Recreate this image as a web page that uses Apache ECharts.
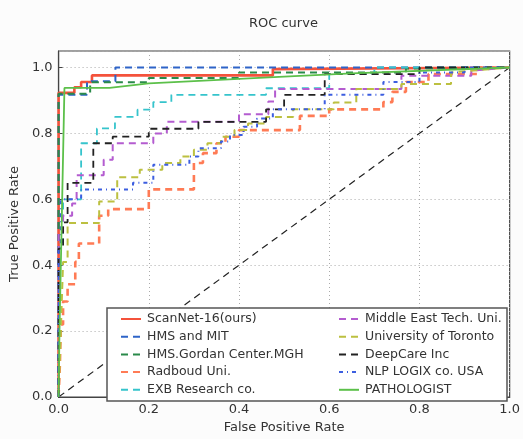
<!DOCTYPE html>
<html>
<head>
<meta charset="utf-8">
<script src="https://cdn.jsdelivr.net/npm/echarts@6/dist/echarts.min.js"></script>
<style>html,body{margin:0;padding:0;background:#fcfcfc;}#c{width:523px;height:439px;}</style>
</head>
<body>
<div id="c"></div>
<script>
// ---- data (FPR, TPR) ----
const xTicks = [0.0, 0.2, 0.4, 0.6, 0.8, 1.0];
const yTicks = [0.0, 0.2, 0.4, 0.6, 0.8, 1.0];

const scanNet = [[0,0],[0,0.923],[0.035,0.923],[0.035,0.94],[0.05,0.94],[0.05,0.956],[0.074,0.956],[0.074,0.976],[0.475,0.976],[0.475,0.995],[1,1]];
const hmsMit = [[0,0],[0,0.917],[0.063,0.917],[0.063,0.958],[0.126,0.958],[0.126,1.0],[1,1]];
const hmsMgh = [[0,0],[0,0.92],[0.07,0.92],[0.07,0.955],[0.2,0.955],[0.2,0.968],[0.4,0.968],[0.4,0.985],[0.77,0.985],[0.77,0.997],[1,1]];
const radboud = [[0,0],[0.003,0.1],[0.005,0.22],[0.01,0.22],[0.01,0.29],[0.02,0.29],[0.02,0.342],[0.037,0.342],[0.037,0.41],[0.045,0.41],[0.045,0.466],[0.09,0.466],[0.09,0.55],[0.11,0.55],[0.11,0.57],[0.2,0.57],[0.2,0.63],[0.3,0.63],[0.3,0.71],[0.32,0.71],[0.32,0.74],[0.35,0.74],[0.35,0.77],[0.37,0.77],[0.37,0.79],[0.4,0.79],[0.4,0.81],[0.535,0.81],[0.535,0.853],[0.6,0.853],[0.6,0.873],[0.72,0.873],[0.72,0.895],[0.74,0.895],[0.74,0.926],[0.77,0.926],[0.77,0.956],[0.82,0.956],[0.82,0.98],[0.93,0.98],[0.93,1],[1,1]];
const exb = [[0,0],[0,0.47],[0.01,0.47],[0.01,0.6],[0.05,0.6],[0.05,0.77],[0.085,0.77],[0.085,0.815],[0.125,0.815],[0.125,0.85],[0.175,0.85],[0.175,0.872],[0.21,0.872],[0.21,0.895],[0.25,0.895],[0.25,0.917],[0.46,0.917],[0.46,0.937],[0.6,0.937],[0.6,0.98],[0.7,0.98],[0.7,1.0],[1,1]];
const metu = [[0,0],[0,0.5],[0.01,0.5],[0.01,0.55],[0.03,0.55],[0.03,0.587],[0.04,0.587],[0.04,0.673],[0.1,0.673],[0.1,0.72],[0.12,0.72],[0.12,0.77],[0.21,0.77],[0.21,0.8],[0.24,0.8],[0.24,0.835],[0.4,0.835],[0.4,0.858],[0.465,0.858],[0.465,0.897],[0.48,0.897],[0.48,0.935],[0.76,0.935],[0.76,0.975],[0.915,0.975],[0.915,0.99],[1,1]];
const toronto = [[0,0],[0.005,0.2],[0.01,0.41],[0.02,0.41],[0.02,0.528],[0.09,0.528],[0.09,0.593],[0.13,0.593],[0.13,0.667],[0.18,0.667],[0.18,0.69],[0.23,0.69],[0.23,0.71],[0.27,0.71],[0.27,0.73],[0.3,0.73],[0.3,0.75],[0.33,0.75],[0.33,0.77],[0.36,0.77],[0.36,0.79],[0.39,0.79],[0.39,0.81],[0.42,0.81],[0.42,0.83],[0.46,0.83],[0.46,0.85],[0.52,0.85],[0.52,0.873],[0.61,0.873],[0.61,0.894],[0.66,0.894],[0.66,0.935],[0.76,0.935],[0.76,0.95],[0.87,0.95],[0.87,0.985],[1,1]];
const deepCare = [[0,0],[0,0.45],[0.01,0.45],[0.01,0.53],[0.02,0.53],[0.02,0.65],[0.077,0.65],[0.077,0.77],[0.12,0.77],[0.12,0.79],[0.2,0.79],[0.2,0.814],[0.31,0.814],[0.31,0.835],[0.46,0.835],[0.46,0.873],[0.5,0.873],[0.5,0.917],[0.59,0.917],[0.59,0.98],[0.8,0.98],[0.8,1.0],[1,1]];
const nlpLogix = [[0,0],[0,0.45],[0.005,0.45],[0.005,0.6],[0.05,0.6],[0.05,0.63],[0.165,0.63],[0.165,0.65],[0.21,0.65],[0.21,0.705],[0.29,0.705],[0.29,0.73],[0.31,0.73],[0.31,0.755],[0.36,0.755],[0.36,0.775],[0.38,0.775],[0.38,0.795],[0.41,0.795],[0.41,0.82],[0.44,0.82],[0.44,0.845],[0.475,0.845],[0.475,0.873],[0.59,0.873],[0.59,0.917],[0.72,0.917],[0.72,0.956],[0.8,0.956],[0.8,0.985],[0.9,0.985],[0.9,1],[1,1]];
const pathologist = [[0,0],[0.002,0.2],[0.008,0.6],[0.013,0.938],[0.113,0.938],[0.2,0.952],[0.5,0.972],[0.65,0.982],[1,1]];
const chance = [[0,0],[1,1]];

const names = ['ScanNet-16(ours)','HMS and MIT','HMS.Gordan Center.MGH','Radboud Uni.','EXB Research co.','Middle East Tech. Uni.','University of Toronto','DeepCare Inc','NLP LOGIX co. USA','PATHOLOGIST'];
const seriesData = [scanNet, hmsMit, hmsMgh, radboud, exb, metu, toronto, deepCare, nlpLogix, pathologist];
const colors = ['#f4523b','#2e64c8','#2a8a4a','#ff7b55','#36c4cc','#b45cd0','#bcc040','#222222','#3c5ee0','#5cc04a'];
const dashes = ['solid',[7,5],[7,5],[7,5],[7,5],[7,5],[7,5],[7,5],[4,4,1,4],'solid'];
const widths = [2.6,2,2,2.6,1.8,2,2,1.8,2,1.8];

const chart = echarts.init(document.getElementById('c'), null, {renderer:'canvas'});
const FONT = 'DejaVu Sans';
const series = names.map((n,i)=>({
  name:n, type:'line', data:seriesData[i], symbol:'none', showSymbol:false,
  lineStyle:{color:colors[i], width:widths[i], type:dashes[i]},
  itemStyle:{color:colors[i]}, animation:false, z:2+i
}));
series.push({name:'chance', type:'line', data:chance, symbol:'none', lineStyle:{color:'#222', width:1.2, type:[7,5]}, animation:false, z:1});

const legendCommon = {
  orient:'vertical', itemWidth:20, itemHeight:14, itemGap:3.7, z:60,
  itemStyle:{opacity:0},
  textStyle:{fontFamily:FONT, fontSize:12.5, color:'#333', padding:[0,0,0,1], lineHeight:14},
  selectedMode:false
};
chart.setOption({
  backgroundColor:'#fcfcfc',
  animation:false,
  title:{text:'ROC curve', left:244, top:12, textStyle:{fontFamily:FONT, fontSize:13, fontWeight:'normal', color:'#333'}},
  grid:{left:51, right:11, top:51, bottom:32, show:true, borderColor:'#444', borderWidth:1.2, backgroundColor:'#ffffff'},
  legend:[
    Object.assign({data:names.slice(0,5), left:115, top:307}, legendCommon),
    Object.assign({data:names.slice(5), left:333, top:307}, legendCommon)
  ],
  graphic:[{type:'rect', shape:{x:107, y:308, width:400, height:93}, style:{fill:'#ffffff', stroke:'#555', lineWidth:1.5}, z:50}],
  xAxis:{type:'value', min:0, max:1, interval:0.2, name:'False Positive Rate', nameLocation:'middle', nameGap:24,
      nameTextStyle:{fontFamily:FONT, fontSize:13, color:'#333'},
      axisLine:{show:true, lineStyle:{color:'#444', width:1.2}},
      axisTick:{show:true, inside:true, length:4, lineStyle:{color:'#444'}},
      axisLabel:{fontFamily:FONT, fontSize:13, color:'#333', margin:6, formatter:v=>v.toFixed(1)},
      splitLine:{show:true, lineStyle:{color:'#aaa', type:[1,3], width:1}}},
  yAxis:{type:'value', min:0, max:1.05, interval:0.2, name:'True Positive Rate', nameLocation:'middle', nameGap:36,
      nameTextStyle:{fontFamily:FONT, fontSize:13, color:'#333'},
      axisLine:{show:true, lineStyle:{color:'#444', width:1.2}},
      axisTick:{show:true, inside:true, length:4, lineStyle:{color:'#444'}},
      axisLabel:{fontFamily:FONT, fontSize:13, color:'#333', margin:6, showMaxLabel:false, formatter:v=>v.toFixed(1)},
      splitLine:{show:true, lineStyle:{color:'#aaa', type:[1,3], width:1}}},
  series: series
});
</script>
</body>
</html>
